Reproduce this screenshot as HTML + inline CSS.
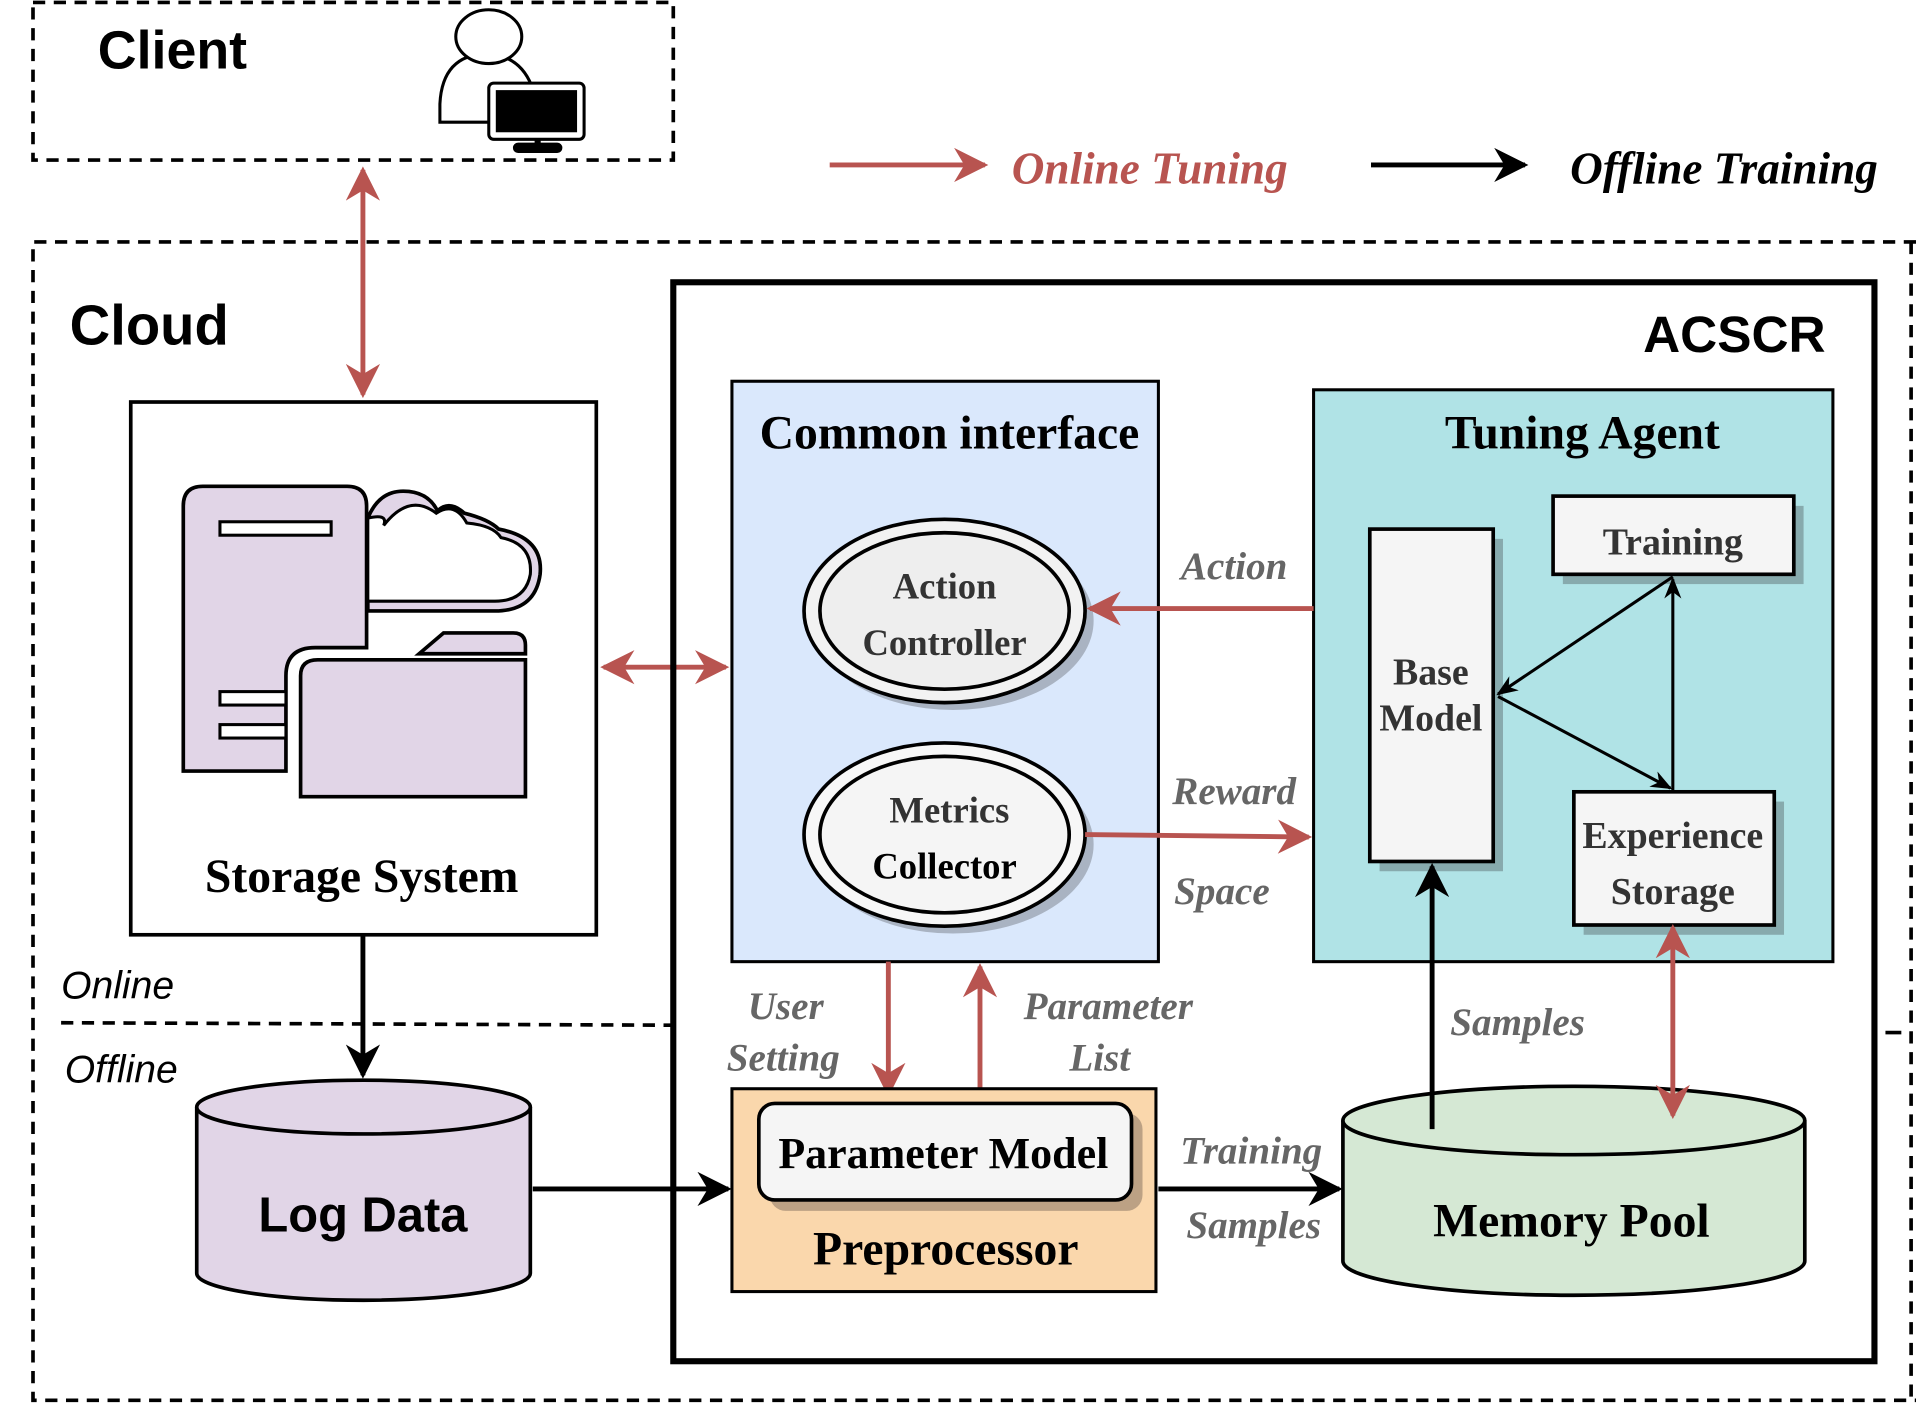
<!DOCTYPE html>
<html><head><meta charset="utf-8"><style>
html,body{margin:0;padding:0;background:#fff;}
svg{display:block;}
.sans{font-family:"Liberation Sans",sans-serif;}
.serif{font-family:"Liberation Serif",serif;}
.lab{font-family:"Liberation Serif",serif;font-style:italic;font-weight:bold;font-size:32px;fill:#666;}
</style></head><body>
<svg width="1916" height="1404" viewBox="0 0 1568 1149" xmlns="http://www.w3.org/2000/svg">
<defs>
<marker id="rh" viewBox="0 0 10 10" refX="9" refY="5" markerWidth="7" markerHeight="7" orient="auto-start-reverse" markerUnits="strokeWidth"><path d="M0,0 L10,5 L0,10 L3,5 Z" fill="#b85450"/></marker>
<marker id="bh" viewBox="0 0 10 10" refX="9" refY="5" markerWidth="7" markerHeight="7" orient="auto-start-reverse" markerUnits="strokeWidth"><path d="M0,0 L10,5 L0,10 L3,5 Z" fill="#000"/></marker>
<marker id="bs" viewBox="0 0 10 10" refX="9" refY="5" markerWidth="7" markerHeight="7" orient="auto-start-reverse" markerUnits="strokeWidth"><path d="M0,1 L10,5 L0,9 L3,5 Z" fill="#000"/></marker>
</defs>
<rect width="1568" height="1149" fill="#fff"/>

<!-- Client -->
<rect x="27" y="2" width="524" height="129" fill="none" stroke="#000" stroke-width="3" stroke-dasharray="10,7"/>
<text x="80" y="56" class="sans" font-weight="bold" font-size="44">Client</text>
<g stroke="#000" stroke-width="2.5" fill="#fff">
<path d="M360,100 L360,85 Q362,45 398,44 Q425,45 435,70 L420,100 Z"/>
<ellipse cx="400" cy="30" rx="27" ry="22"/>
<rect x="400" y="68" width="78" height="46" rx="4"/>
<rect x="407" y="75" width="64" height="32" fill="#000"/>
<rect x="421" y="118" width="38" height="6" rx="3" fill="#000"/>
</g>
<line x1="440" y1="114" x2="440" y2="120" stroke="#000" stroke-width="5"/>

<!-- Legend -->
<line x1="679" y1="135" x2="806" y2="135" stroke="#b85450" stroke-width="4" marker-end="url(#rh)"/>
<text x="828" y="150" class="serif" font-style="italic" font-weight="bold" font-size="37" fill="#b85450">Online Tuning</text>
<line x1="1122" y1="135" x2="1248" y2="135" stroke="#000" stroke-width="4" marker-end="url(#bh)"/>
<text x="1285" y="150" class="serif" font-style="italic" font-weight="bold" font-size="37" fill="#000">Offline Training</text>

<!-- Cloud -->
<path d="M1568,198 L27,198 L27,1146 L1568,1146" fill="none" stroke="#000" stroke-width="3" stroke-dasharray="10,7"/>
<line x1="1564" y1="198" x2="1564" y2="1146" stroke="#000" stroke-width="3" stroke-dasharray="10,7"/>
<text x="57" y="282" class="sans" font-weight="bold" font-size="46">Cloud</text>
<line x1="50" y1="837" x2="550" y2="839" stroke="#000" stroke-width="3" stroke-dasharray="10,7"/>
<line x1="1543" y1="845" x2="1556" y2="845" stroke="#000" stroke-width="3"/>
<text x="50" y="817" class="sans" font-style="italic" font-size="32">Online</text>
<text x="53" y="886" class="sans" font-style="italic" font-size="32">Offline</text>

<line x1="297" y1="139" x2="297" y2="323" stroke="#b85450" stroke-width="4" marker-start="url(#rh)" marker-end="url(#rh)"/>

<!-- Storage System -->
<rect x="107" y="329" width="381" height="436" fill="#fff" stroke="#000" stroke-width="3"/>
<g stroke="#000" stroke-width="3" fill="#e1d5e7">
<path d="M301,424 Q310,402 330,402 Q350,402 358,418 Q368,409 380,420 Q400,425 408,433 Q445,440 442,470 Q438,500 405,500 L301,500 Z"/>
<path d="M300,414 Q300,398 284,398 L166,398 Q150,398 150,414 L150,631 L234,631 L234,553 Q234,530 258,530 L300,530 Z"/>
<path d="M246,652 L246,553 Q246,540 260,540 L430,540 L430,652 Z"/>
<path d="M343,535 L363,518 L420,518 Q430,518 430,528 L430,535 Z"/>
</g>
<path d="M301,424 Q318,420 314,430 Q335,403 357,420 Q372,410 382,428 Q404,430 410,440 Q436,445 434,470 Q430,492 405,492 L301,492 Z" fill="#fff" stroke="#000" stroke-width="2.5"/>
<g fill="#fff" stroke="#000" stroke-width="2.5">
<rect x="180" y="427" width="91" height="11"/>
<rect x="180" y="566" width="54" height="11"/>
<rect x="180" y="593" width="54" height="11"/>
</g>
<text x="296" y="730" text-anchor="middle" class="serif" font-weight="bold" font-size="39">Storage System</text>

<line x1="494" y1="546" x2="594" y2="546" stroke="#b85450" stroke-width="4" marker-start="url(#rh)" marker-end="url(#rh)"/>

<!-- ACSCR -->
<rect x="551" y="231" width="983" height="883" fill="none" stroke="#000" stroke-width="5"/>
<text x="1494" y="288" text-anchor="end" class="sans" font-weight="bold" font-size="42">ACSCR</text>

<!-- Common interface -->
<rect x="599" y="312" width="349" height="475" fill="#dae8fc" stroke="#000" stroke-width="2.5"/>
<text x="777" y="367" text-anchor="middle" class="serif" font-weight="bold" font-size="39">Common interface</text>
<g>
<ellipse cx="780" cy="508" rx="115" ry="73" fill="#a9b3c2"/>
<ellipse cx="773" cy="500" rx="115" ry="75" fill="#f2f2f2" stroke="#000" stroke-width="3"/>
<ellipse cx="773" cy="500" rx="102" ry="64" fill="#eeeeee" stroke="#000" stroke-width="3"/>
<text x="773" y="490" text-anchor="middle" class="serif" font-weight="bold" font-size="30" fill="#333">Action</text>
<text x="773" y="536" text-anchor="middle" class="serif" font-weight="bold" font-size="30" fill="#333">Controller</text>
<ellipse cx="780" cy="691" rx="115" ry="73" fill="#a9b3c2"/>
<ellipse cx="773" cy="683" rx="115" ry="75" fill="#f7f7f7" stroke="#000" stroke-width="3"/>
<ellipse cx="773" cy="683" rx="102" ry="64" fill="#f5f5f5" stroke="#000" stroke-width="3"/>
<text x="777" y="673" text-anchor="middle" class="serif" font-weight="bold" font-size="30" fill="#333">Metrics</text>
<text x="773" y="719" text-anchor="middle" class="serif" font-weight="bold" font-size="30" fill="#000">Collector</text>
</g>

<!-- Tuning Agent -->
<rect x="1075" y="319" width="425" height="468" fill="#b0e3e6" stroke="#000" stroke-width="2.5"/>
<text x="1295" y="367" text-anchor="middle" class="serif" font-weight="bold" font-size="39">Tuning Agent</text>
<rect x="1129" y="441" width="101" height="272" fill="#87aaad"/>
<rect x="1121" y="433" width="101" height="272" fill="#f5f5f5" stroke="#000" stroke-width="3"/>
<text x="1171" y="560" text-anchor="middle" class="serif" font-weight="bold" font-size="31" fill="#333">Base</text>
<text x="1171" y="598" text-anchor="middle" class="serif" font-weight="bold" font-size="31" fill="#333">Model</text>
<rect x="1279" y="414" width="197" height="64" fill="#87aaad"/>
<rect x="1271" y="406" width="197" height="64" fill="#f5f5f5" stroke="#000" stroke-width="3"/>
<text x="1369" y="454" text-anchor="middle" class="serif" font-weight="bold" font-size="31" fill="#333">Training</text>
<rect x="1296" y="656" width="164" height="109" fill="#87aaad"/>
<rect x="1288" y="648" width="164" height="109" fill="#f5f5f5" stroke="#000" stroke-width="3"/>
<text x="1369" y="694" text-anchor="middle" class="serif" font-weight="bold" font-size="31" fill="#333">Experience</text>
<text x="1369" y="740" text-anchor="middle" class="serif" font-weight="bold" font-size="31" fill="#333">Storage</text>
<line x1="1369" y1="472" x2="1226" y2="568" stroke="#000" stroke-width="2.5" marker-end="url(#bs)"/>
<line x1="1226" y1="570" x2="1367" y2="645" stroke="#000" stroke-width="2.5" marker-end="url(#bs)"/>
<line x1="1369" y1="647" x2="1369" y2="474" stroke="#000" stroke-width="2.5" marker-end="url(#bs)"/>

<!-- Action / Reward -->
<line x1="1075" y1="498" x2="892" y2="498" stroke="#b85450" stroke-width="4" marker-end="url(#rh)"/>
<text x="1010" y="474" text-anchor="middle" class="lab">Action</text>
<line x1="888" y1="683" x2="1071" y2="685" stroke="#b85450" stroke-width="4" marker-end="url(#rh)"/>
<text x="1010" y="658" text-anchor="middle" class="lab">Reward</text>
<text x="1000" y="740" text-anchor="middle" class="lab">Space</text>

<!-- User setting / Parameter list -->
<line x1="727" y1="787" x2="727" y2="895" stroke="#b85450" stroke-width="4" marker-end="url(#rh)"/>
<line x1="802" y1="895" x2="802" y2="791" stroke="#b85450" stroke-width="4" marker-end="url(#rh)"/>
<text x="643" y="834" text-anchor="middle" class="lab">User</text>
<text x="641" y="876" text-anchor="middle" class="lab">Setting</text>
<text x="907" y="834" text-anchor="middle" class="lab">Parameter</text>
<text x="900" y="876" text-anchor="middle" class="lab">List</text>

<!-- Preprocessor -->
<rect x="599" y="891" width="347" height="166" fill="#fad7ac" stroke="#000" stroke-width="2.5"/>
<rect x="630" y="911" width="305" height="80" rx="13" fill="#bca184"/>
<rect x="621" y="903" width="305" height="79" rx="13" fill="#f5f5f5" stroke="#000" stroke-width="3"/>
<text x="772" y="956" text-anchor="middle" class="serif" font-weight="bold" font-size="36">Parameter Model</text>
<text x="774" y="1035" text-anchor="middle" class="serif" font-weight="bold" font-size="39">Preprocessor</text>

<line x1="948" y1="973" x2="1096" y2="973" stroke="#000" stroke-width="4" marker-end="url(#bh)"/>
<text x="1024" y="952" text-anchor="middle" class="lab">Training</text>
<text x="1026" y="1013" text-anchor="middle" class="lab">Samples</text>

<!-- Memory Pool -->
<path d="M1099,917 L1099,1032 A189,28 0 0 0 1477,1032 L1477,917" fill="#d5e8d4" stroke="#000" stroke-width="3"/>
<ellipse cx="1288" cy="917" rx="189" ry="28" fill="#d5e8d4" stroke="#000" stroke-width="3"/>
<text x="1286" y="1012" text-anchor="middle" class="serif" font-weight="bold" font-size="39">Memory Pool</text>
<line x1="1172" y1="924" x2="1172" y2="709" stroke="#000" stroke-width="4" marker-end="url(#bh)"/>
<text x="1242" y="847" text-anchor="middle" class="lab">Samples</text>
<line x1="1369" y1="759" x2="1369" y2="913" stroke="#b85450" stroke-width="4" marker-start="url(#rh)" marker-end="url(#rh)"/>

<!-- Log Data -->
<path d="M161,906 L161,1042 A136,22 0 0 0 434,1042 L434,906" fill="#e1d5e7" stroke="#000" stroke-width="3"/>
<ellipse cx="297.5" cy="906" rx="136.5" ry="22" fill="#e1d5e7" stroke="#000" stroke-width="3"/>
<text x="297" y="1008" text-anchor="middle" class="sans" font-weight="bold" font-size="40">Log Data</text>
<line x1="297" y1="766" x2="297" y2="880" stroke="#000" stroke-width="4" marker-end="url(#bh)"/>
<line x1="436" y1="973" x2="596" y2="973" stroke="#000" stroke-width="4" marker-end="url(#bh)"/>
</svg>
</body></html>
